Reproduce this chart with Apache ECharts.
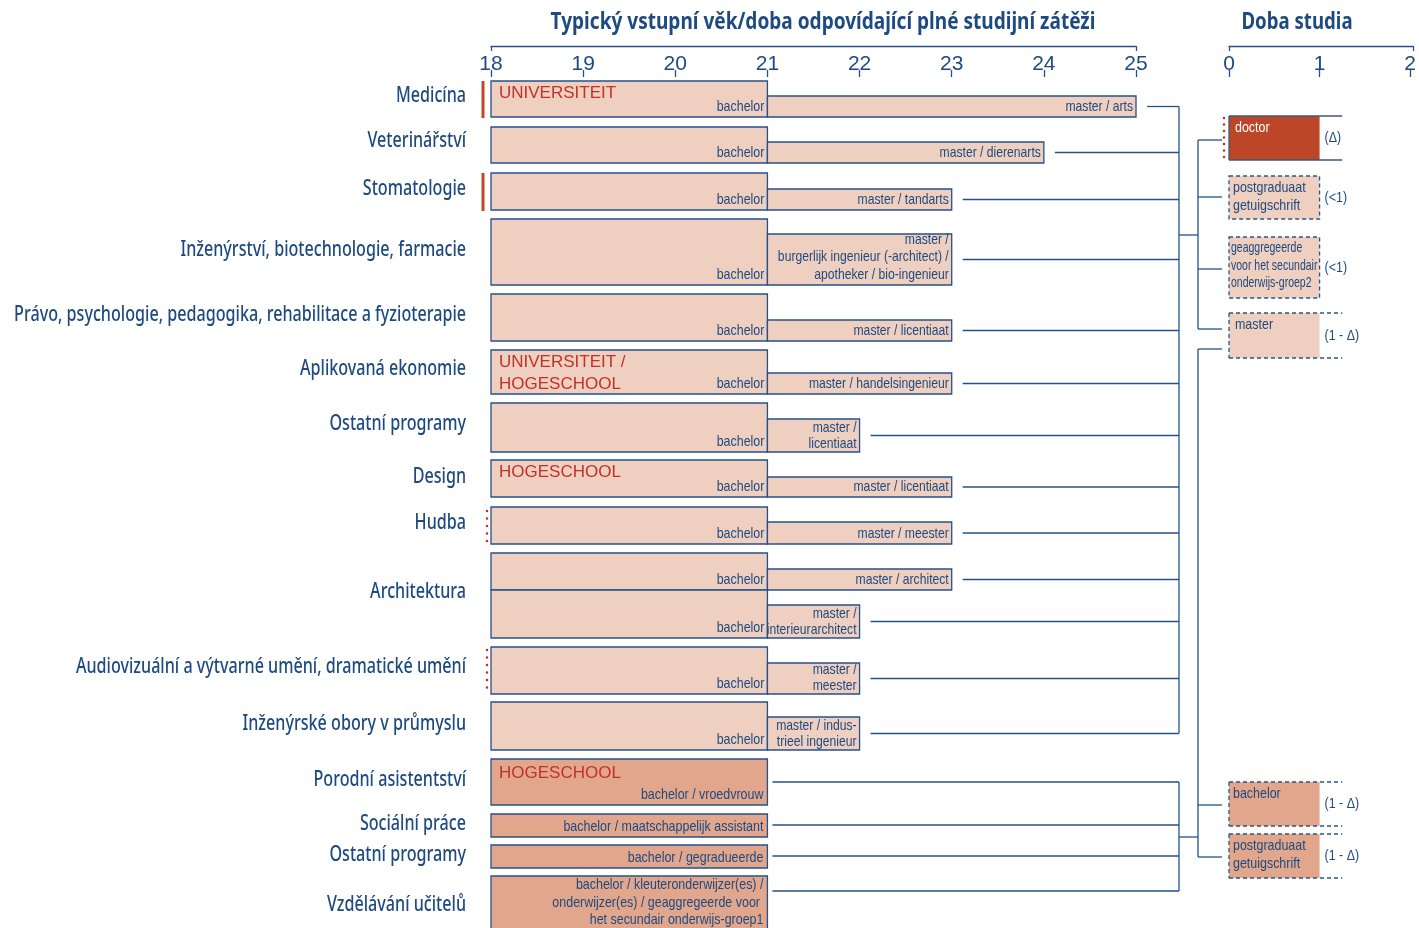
<!DOCTYPE html>
<html>
<head>
<meta charset="utf-8">
<title>Typický vstupní věk / doba studia</title>
<script src="https://cdn.jsdelivr.net/npm/echarts@6/dist/echarts.min.js"></script>
<style>
  html, body { margin: 0; padding: 0; background: #fff; }
  #chart { width: 1419px; height: 928px; }
</style>
</head>
<body>
<div id="chart"></div>
<script>
// ---- data ----
const fields = [
  'Medicína', 'Veterinářství', 'Stomatologie', 'Inženýrství, biotechnologie, farmacie',
  'Právo, psychologie, pedagogika, rehabilitace a fyzioterapie', 'Aplikovaná ekonomie',
  'Ostatní programy', 'Design', 'Hudba', 'Architektura',
  'Audiovizuální a výtvarné umění, dramatické umění', 'Inženýrské obory v průmyslu',
  'Porodní asistentství', 'Sociální práce', 'Ostatní programy', 'Vzdělávání učitelů'
]

const entryAge = 18
// univerzitní programy (bachelor + master)
const uniBachelorEnd = [21, 21, 21, 21, 21, 21, 21, 21, 21, 21, 21, 21, 21]
const uniMasterEnd = [25, 24, 23, 23, 23, 23, 22, 23, 23, 23, 22, 22, 22]
const uniMasterLabel = [
  'master / arts', 'master / dierenarts', 'master / tandarts',
  'master /\nburgerlijk ingenieur (-architect) /\napotheker / bio-ingenieur',
  'master / licentiaat', 'master / handelsingenieur', 'master /\nlicentiaat',
  'master / licentiaat', 'master / meester', 'master / architect',
  'master /\ninterieurarchitect', 'master /\nmeester', 'master / indus-\ntrieel ingenieur'
]
const uniInstitution = ['UNIVERSITEIT', '', '', '', '', 'UNIVERSITEIT /\nHOGESCHOOL', '', 'HOGESCHOOL', '', '', '', '', '']

// profesní bakaláři (hogeschool)
const hsEnd = [21, 21, 21, 21]
const hsLabel = [
  'bachelor / vroedvrouw', 'bachelor / maatschappelijk assistant', 'bachelor / gegradueerde',
  'bachelor / kleuteronderwijzer(es) /\nonderwijzer(es) / geaggregeerde voor \nhet secundair onderwijs-groep1'
]
const hsInstitution = ['HOGESCHOOL', '', '', '']

// doba studia (pravý panel)
const durLabel = ['doctor', 'postgraduaat\ngetuigschrift', 'geaggregeerde\nvoor het secundair\nonderwijs-groep2', 'master', 'bachelor', 'postgraduaat\ngetuigschrift']
const durValue = [1, 1, 1, 1, 1, 1]
const durOpenEnd = [1.25, null, null, 1.25, 1.25, 1.25]
const durNote = ['(Δ)', '(<1)', '(<1)', '(1 - Δ)', '(1 - Δ)', '(1 - Δ)']

const ageTicks = [18, 25]
const durTicks = [0, 2]

// ---- layout (px) ----
const labelY = [96, 141, 189, 250, 315, 369, 424, 477, 523, 592, 667, 724, 780, 824, 855, 905]
const fieldMark = [[483, 81, 118, 'solid'], null, [483, 173, 211, 'solid'], null, null, null, null, null,
  [487, 510, 543, 'dot'], null, [487, 649, 692, 'dot'], null, null, null, null, null]
// [top, bottom, masterTop]
const uniBox = [[81, 117, 96], [127, 163, 142], [173, 210, 189], [219, 285, 234], [294, 341, 320],
  [350, 394, 373], [403, 452, 419], [460, 497, 477], [507, 544, 522], [553, 590, 569],
  [590, 638, 605], [647, 694, 663], [702, 750, 717]]
// [top, bottom, connectorY]
const hsBox = [[759, 805, 782], [814, 837, 825], [845, 868, 856], [876, 945, 891]]
const hsTextTop = [false, false, false, true]
// [top, bottom, branchY]
const durBox = [[116, 160, 140], [176, 219, 197], [237, 298, 269], [313, 358, 329], [782, 826, 805], [834, 878, 857]]
const durKind = ['doctor', 'closed', 'closed', 'open', 'open', 'open']
const durFill = ['#bd4629', '#efcfbf', '#efcfbf', '#efcfbf', '#e1a68c', '#e1a68c']
const durTextScale = [0.83, 0.83, 0.7, 0.83, 0.83, 0.83]
const durTextDx = [6, 4, 2, 6, 4, 4]

const busA = 1179
const busB = 1198
const branchEnd = 1222

const COL = {
  text: '#1d4a80',
  line: '#24518a',
  peach: '#efcfbf',
  peachDark: '#e1a68c',
  red: '#c2312a',
  redBar: '#c4472b'
}
const NARROW = "'Liberation Sans', Arial, sans-serif"
const COND = "'Noto Sans', 'Open Sans', sans-serif"

function txt(x, y, text, o) {
  return {
    type: 'text',
    x: x,
    y: y,
    scaleX: o.sx || 1,
    silent: true,
    style: {
      text: text,
      fill: o.fill || COL.text,
      fontSize: o.size || 15,
      fontFamily: o.family || NARROW,
      fontWeight: o.weight || 'normal',
      align: o.align || 'right',
      verticalAlign: o.va || 'bottom',
      lineHeight: o.lh || 17.5
    }
  }
}
function line(x1, y1, x2, y2, o) {
  o = o || {}
  return {
    type: 'line',
    silent: true,
    shape: { x1: x1, y1: y1, x2: x2, y2: y2 },
    style: { stroke: o.stroke || COL.line, lineWidth: o.lw || 1.3, lineDash: o.dash || null, lineCap: o.cap || 'butt' }
  }
}
function box(x, y, w, h, fill, stroke) {
  return {
    type: 'rect',
    silent: true,
    shape: { x: x, y: y, width: w, height: h },
    style: { fill: fill, stroke: stroke || null, lineWidth: 1.3 }
  }
}
function lineCount(s) {
  return s.split('\n').length
}

const uniRender = (params, api) => {
  const i = api.value(3)
  const L = uniBox[i]
  const a = api.coord([api.value(0), L[0]])
  const b = api.coord([api.value(1), L[1]])
  const m = api.coord([api.value(2), L[2]])
  const top = a[1], bottom = b[1], mTop = m[1]
  const cy = (mTop + bottom) / 2
  const ml = uniMasterLabel[i]
  const children = [
    box(a[0], top, b[0] - a[0], bottom - top, COL.peach, COL.line),
    box(b[0], mTop, m[0] - b[0], bottom - mTop, COL.peach, COL.line),
    txt(b[0] - 3, bottom - 1.5, 'bachelor', { sx: 0.83 }),
    txt(m[0] - 3, bottom - (lineCount(ml) === 2 ? 0.5 : 1.5), ml, { sx: 0.81, lh: lineCount(ml) === 2 ? 15.5 : 17.5 }),
    line(m[0] + 11, cy, busA, cy)
  ]
  if (uniInstitution[i]) {
    children.push(txt(a[0] + 8, top + 1.5, uniInstitution[i], { align: 'left', va: 'top', size: 17, lh: 22, fill: COL.red }))
  }
  return { type: 'group', children: children }
}

const hsRender = (params, api) => {
  const i = api.value(2)
  const L = hsBox[i]
  const a = api.coord([api.value(0), L[0]])
  const b = api.coord([api.value(1), L[1]])
  const children = [
    box(a[0], a[1], b[0] - a[0], b[1] - a[1], COL.peachDark, COL.line),
    hsTextTop[i]
      ? txt(b[0] - 4, a[1] + 0.5, hsLabel[i], { sx: 0.83, va: 'top' })
      : txt(b[0] - 4, b[1] - 1.5, hsLabel[i], { sx: 0.83 }),
    line(b[0] + 5, L[2], busA, L[2])
  ]
  if (hsInstitution[i]) {
    children.push(txt(a[0] + 8, a[1] + 3.5, hsInstitution[i], { align: 'left', va: 'top', size: 17, lh: 22, fill: COL.red }))
  }
  return { type: 'group', children: children }
}

const fieldRender = (params, api) => {
  const i = api.value(0)
  const x = api.coord([entryAge, labelY[i]])[0] - 25
  const children = [txt(x, labelY[i], fields[i], { va: 'middle', size: 21.5, family: COND, weight: 500, sx: 0.75 })]
  const mk = fieldMark[i]
  if (mk) {
    if (mk[3] === 'solid') {
      children.push(line(mk[0], mk[1], mk[0], mk[2], { stroke: COL.redBar, lw: 3 }))
    } else {
      children.push(line(mk[0], mk[1] + 1, mk[0], mk[2], { stroke: COL.red, lw: 2.6, dash: [0.01, 7.5], cap: 'round' }))
    }
  }
  return { type: 'group', children: children }
}

const durRender = (params, api) => {
  const i = api.value(3)
  const L = durBox[i]
  const a = api.coord([api.value(0), L[0]])
  const b = api.coord([api.value(1), L[1]])
  const top = a[1], bottom = b[1]
  const x0 = a[0], x1 = b[0]
  const kind = durKind[i]
  const children = [box(x0, top, x1 - x0, bottom - top, durFill[i])]
  const dash = [4, 3]
  if (kind === 'doctor') {
    const xe = api.coord([api.value(2), L[0]])[0]
    children.push(line(x0, top, xe, top, { stroke: '#3e587c' }))
    children.push(line(x0, bottom, xe, bottom, { stroke: '#3e587c' }))
    children.push(line(x0, top, x0, bottom, { stroke: '#3e587c' }))
    children.push(line(x0 - 5, top + 2, x0 - 5, bottom, { stroke: COL.red, lw: 2.6, dash: [0.01, 6.5], cap: 'round' }))
  } else if (kind === 'closed') {
    children.push({
      type: 'rect', silent: true,
      shape: { x: x0, y: top, width: x1 - x0, height: bottom - top },
      style: { fill: null, stroke: '#2b5585', lineWidth: 1.3, lineDash: dash }
    })
  } else {
    const xe = api.coord([api.value(2), L[0]])[0]
    children.push(line(x0, top, xe, top, { stroke: '#2b5585', dash: dash }))
    children.push(line(x0, bottom, xe, bottom, { stroke: '#2b5585', dash: dash }))
    children.push(line(x0, top, x0, bottom, { stroke: '#2b5585', dash: dash }))
  }
  children.push(txt(x0 + durTextDx[i], top + 2.5, durLabel[i], {
    align: 'left', va: 'top', sx: durTextScale[i], lh: i === 2 ? 17.5 : 18.5,
    fill: kind === 'doctor' ? '#ffffff' : COL.text
  }))
  children.push(txt(x1 + 5, (top + bottom) / 2, durNote[i], { align: 'left', va: 'middle', sx: 0.83 }))
  return { type: 'group', children: children }
}

const treeRender = () => {
  const uniY = uniBox.map(b => (b[1] + b[2]) / 2)
  const hsY = hsBox.map(b => b[2])
  const uniBranch = durBox.slice(0, 4).map(b => b[2])
  const hsBranch = durBox.slice(4).map(b => b[2])
  const midA = 235
  const midB = 837
  const masterLink = 349
  const children = [
    line(busA, Math.min(...uniY), busA, Math.max(...uniY)),
    line(busA, midA, busB, midA),
    line(busB, Math.min(...uniBranch), busB, Math.max(...uniBranch)),
    line(busA, Math.min(...hsY), busA, Math.max(...hsY)),
    line(busA, midB, busB, midB),
    line(busB, masterLink, busB, Math.max(...hsBranch)),
    line(busB, masterLink, branchEnd, masterLink)
  ]
  uniBranch.concat(hsBranch).forEach(y => children.push(line(busB, y, branchEnd, y)))
  return { type: 'group', children: children }
}

const axisLineCommon = {
  type: 'value',
  position: 'top',
  axisLine: { show: true, onZero: false, lineStyle: { color: COL.line, width: 1.3 } },
  axisTick: { show: true, inside: true, length: 5, lineStyle: { color: COL.line, width: 1.3 } },
  axisLabel: { show: false },
  splitLine: { show: false }
}
const axisTickCommon = {
  type: 'value',
  position: 'top',
  interval: 1,
  axisLine: { show: false, onZero: false },
  axisTick: { show: true, length: 7, lineStyle: { color: COL.line, width: 1.3 } },
  axisLabel: { show: true, color: COL.text, fontSize: 21, fontFamily: NARROW, margin: 2, showMinLabel: true, showMaxLabel: true },
  splitLine: { show: false }
}

const chart = echarts.init(document.getElementById('chart'), null, { renderer: 'canvas' })
const option = {
  animation: false,
  backgroundColor: '#ffffff',
  graphic: [
    {
      type: 'text', x: 823, y: 22, scaleX: 0.828, silent: true,
      style: { text: 'Typický vstupní věk/doba odpovídající plné studijní zátěži', fill: COL.text, fontSize: 23, fontWeight: 'bold', fontFamily: COND, align: 'center', verticalAlign: 'middle' }
    },
    {
      type: 'text', x: 1297, y: 22, scaleX: 0.81, silent: true,
      style: { text: 'Doba studia', fill: COL.text, fontSize: 23, fontWeight: 'bold', fontFamily: COND, align: 'center', verticalAlign: 'middle' }
    }
  ],
  grid: [
    { left: 491, width: 645, top: 46, height: 10 },
    { left: 491, width: 645, top: 77, height: 851 },
    { left: 1229, width: 184, top: 46, height: 10 },
    { left: 1229, width: 184, top: 77, height: 851 }
  ],
  xAxis: [
    Object.assign({}, axisLineCommon, { gridIndex: 0, min: ageTicks[0], max: ageTicks[1], interval: ageTicks[1] - ageTicks[0] }),
    Object.assign({}, axisTickCommon, { gridIndex: 1, min: ageTicks[0], max: ageTicks[1] }),
    Object.assign({}, axisLineCommon, { gridIndex: 2, min: durTicks[0], max: durTicks[1], interval: durTicks[1] - durTicks[0] }),
    Object.assign({}, axisTickCommon, { gridIndex: 3, min: durTicks[0], max: durTicks[1] })
  ],
  yAxis: [
    { gridIndex: 0, type: 'value', show: false, min: 0, max: 1 },
    { gridIndex: 1, type: 'value', show: false, min: 77, max: 928, inverse: true },
    { gridIndex: 2, type: 'value', show: false, min: 0, max: 1 },
    { gridIndex: 3, type: 'value', show: false, min: 77, max: 928, inverse: true }
  ],
  series: [
    {
      type: 'custom', name: 'university', xAxisIndex: 1, yAxisIndex: 1, clip: false,
      renderItem: uniRender,
      encode: { x: [0, 1, 2] },
      data: uniMasterEnd.map((end, i) => [entryAge, uniBachelorEnd[i], end, i])
    },
    {
      type: 'custom', name: 'hogeschool', xAxisIndex: 1, yAxisIndex: 1, clip: false,
      renderItem: hsRender,
      encode: { x: [0, 1] },
      data: hsEnd.map((end, i) => [entryAge, end, i])
    },
    {
      type: 'custom', name: 'fields', xAxisIndex: 1, yAxisIndex: 1, clip: false,
      renderItem: fieldRender,
      data: fields.map((f, i) => [i])
    },
    {
      type: 'custom', name: 'duration', xAxisIndex: 3, yAxisIndex: 3, clip: false,
      renderItem: durRender,
      encode: { x: [0, 1, 2] },
      data: durValue.map((v, i) => [0, v, durOpenEnd[i] == null ? v : durOpenEnd[i], i])
    },
    {
      type: 'custom', name: 'tree', coordinateSystem: 'none',
      renderItem: treeRender,
      data: [[0]]
    }
  ]
}
chart.setOption(option)
</script>
</body>
</html>
